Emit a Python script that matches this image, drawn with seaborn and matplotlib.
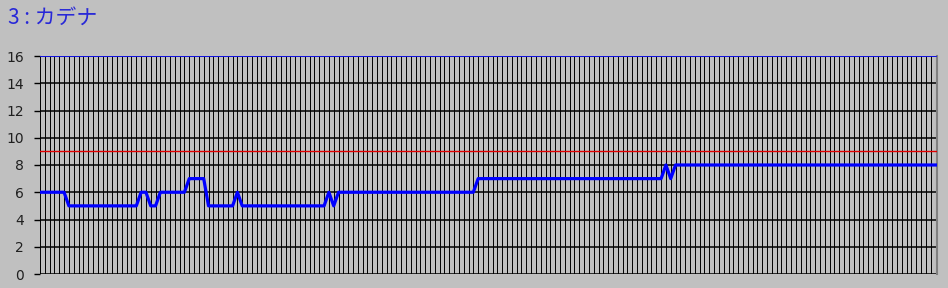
import matplotlib
matplotlib.use("Agg")
import matplotlib.pyplot as plt
import seaborn as sns
import pandas as pd

title_text = "3 : カデナ"
y_ticks = [0, 2, 4, 6, 8, 10, 12, 14, 16]
upper_value = 16
threshold_value = 9

values = [
    6, 6, 6, 6, 6, 6, 5, 5, 5, 5, 5, 5, 5, 5, 5, 5,
    5, 5, 5, 5, 5, 6, 6, 5, 5, 6, 6, 6, 6, 6, 6, 7,
    7, 7, 7, 5, 5, 5, 5, 5, 5, 6, 5, 5, 5, 5, 5, 5,
    5, 5, 5, 5, 5, 5, 5, 5, 5, 5, 5, 5, 6, 5, 6, 6,
    6, 6, 6, 6, 6, 6, 6, 6, 6, 6, 6, 6, 6, 6, 6, 6,
    6, 6, 6, 6, 6, 6, 6, 6, 6, 6, 6, 7, 7, 7, 7, 7,
    7, 7, 7, 7, 7, 7, 7, 7, 7, 7, 7, 7, 7, 7, 7, 7,
    7, 7, 7, 7, 7, 7, 7, 7, 7, 7, 7, 7, 7, 7, 7, 7,
    7, 7, 8, 7, 8, 8, 8, 8, 8, 8, 8, 8, 8, 8, 8, 8,
    8, 8, 8, 8, 8, 8, 8, 8, 8, 8, 8, 8, 8, 8, 8, 8,
    8, 8, 8, 8, 8, 8, 8, 8, 8, 8, 8, 8, 8, 8, 8, 8,
    8, 8, 8, 8, 8, 8, 8, 8, 8, 8, 8,
]

df = pd.DataFrame({"idx": list(range(len(values))), "value": values})

bg = "#C0C0C0"
fig = plt.figure(figsize=(9.48, 2.88), dpi=100, facecolor=bg)
ax = fig.add_axes([40 / 948, 14 / 288, 896.5 / 948, 218 / 288])
ax.set_facecolor(bg)

n = len(values)
ax.set_xticks(range(n))
ax.set_xticklabels([])
ax.tick_params(axis="x", length=0)
ax.set_yticks(y_ticks)
ax.set_yticklabels([str(t) for t in y_ticks], fontsize=10, color="#202020",
                   family="DejaVu Sans")
ax.tick_params(axis="y", length=4.5, width=1.0, color="#000000", pad=7)
ax.grid(axis="x", color="#000000", linewidth=0.7)
ax.grid(axis="y", color="#000000", linewidth=1.1)
ax.set_axisbelow(True)

ax.axhline(threshold_value, color="#E00000", linewidth=1.0, zorder=3)
ax.axhline(upper_value, color="#1010F0", linewidth=1.3, zorder=3)

sns.lineplot(data=df, x="idx", y="value", ax=ax, color="#0000FF",
             linewidth=2.3, zorder=4)

ax.set_xlim(0, n - 1 + 0.2)
ax.set_ylim(0, 16)
ax.set_xlabel("")
ax.set_ylabel("")

for s in ["top", "left", "bottom"]:
    ax.spines[s].set_visible(False)
ax.spines["right"].set_color("#808080")
ax.spines["right"].set_linewidth(1.5)

fig.text(8 / 948, 1 - 24 / 288, title_text, fontsize=15, color="#2828D8",
         family=["Noto Sans CJK JP", "DejaVu Sans"], ha="left", va="baseline")

fig.savefig("out.png", dpi=100, facecolor=bg)
